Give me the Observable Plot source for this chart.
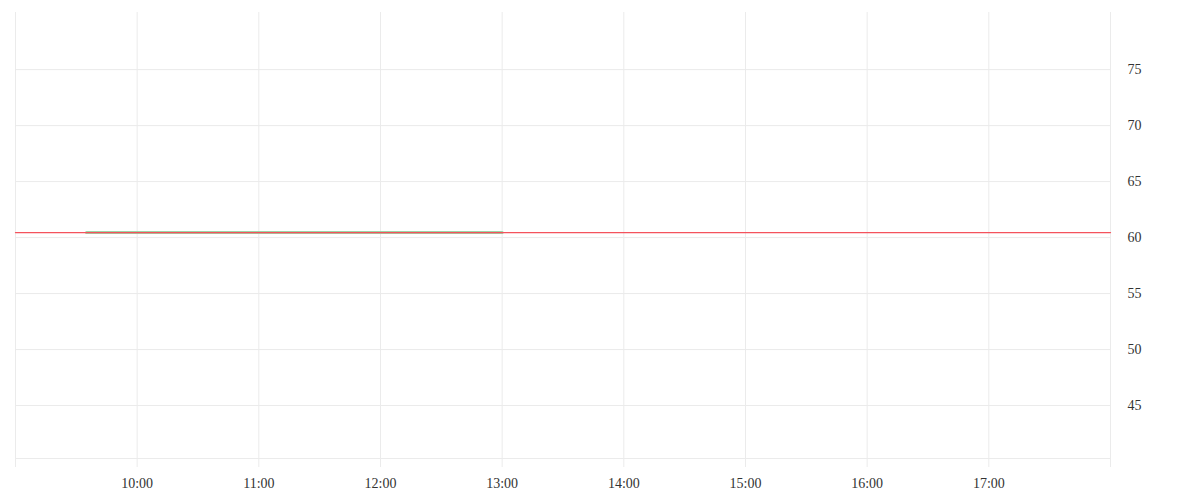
<!DOCTYPE html>
<html>
<head>
<meta charset="utf-8">
<script src="https://cdn.jsdelivr.net/npm/d3@7"></script>
<script src="https://cdn.jsdelivr.net/npm/@observablehq/plot@0.6"></script>
<style>
  html, body { margin: 0; padding: 0; background: #fff; }
  #chart svg { display: block; }
</style>
</head>
<body>
<div id="chart"></div>
<script>
// ---- data ----
const day = "2024-01-02";
const xDomainTimes = ["09:00", "18:00"];
const hourTicks = ["09:00","10:00","11:00","12:00","13:00","14:00","15:00","16:00","17:00","18:00"];
const hiddenTickLabels = ["09:00", "18:00"];
const yDomain = [40.27, 80.1];
const yTicks = [45, 50, 55, 60, 65, 70, 75];
const refLineValue = 60.45;            // red horizontal reference line
const segmentTimes = ["09:35", "13:00"]; // green highlighted span
const segmentValues = [60.45, 60.45];

const toDate = t => new Date(`${day}T${t}:00Z`);
const fmt = d3.utcFormat("%H:%M");

const segment = segmentTimes.map((t, i) => ({ time: toDate(t), value: segmentValues[i] }));
const refLine = xDomainTimes.map(t => ({ time: toDate(t), value: refLineValue }));
const xTicks = hourTicks.map(toDate);

const gridColor = "#ebebeb";
const textColor = "#333";

const chart = Plot.plot({
  width: 1200,
  height: 500,
  marginTop: 12,
  marginBottom: 42,
  marginLeft: 15,
  marginRight: 90,
  style: { fontFamily: "'Liberation Serif', serif", fontSize: "14px", color: textColor, background: "#fff" },
  x: { type: "utc", domain: xDomainTimes.map(toDate) },
  y: { domain: yDomain },
  marks: [
    Plot.gridX(xTicks, { stroke: gridColor, strokeOpacity: 1 }),
    Plot.gridY(yTicks, { stroke: gridColor, strokeOpacity: 1 }),
    Plot.ruleY([yDomain[0]], { stroke: gridColor }),
    Plot.axisX(xTicks, {
      anchor: "bottom",
      tickSize: 9,
      tickPadding: 11,
      stroke: gridColor,
      fill: textColor,
      tickFormat: d => hiddenTickLabels.includes(fmt(d)) ? "" : fmt(d),
      label: null
    }),
    Plot.axisY(yTicks, {
      anchor: "right",
      tickSize: 0,
      tickPadding: 17,
      fill: textColor,
      label: null
    }),
    Plot.line(segment, { x: "time", y: "value", stroke: "#8fd19e", strokeWidth: 3, strokeOpacity: 0.9 }),
    Plot.line(refLine, { x: "time", y: "value", stroke: "#f4525c", strokeWidth: 1.3 })
  ]
});
document.getElementById("chart").appendChild(chart);
</script>
</body>
</html>
